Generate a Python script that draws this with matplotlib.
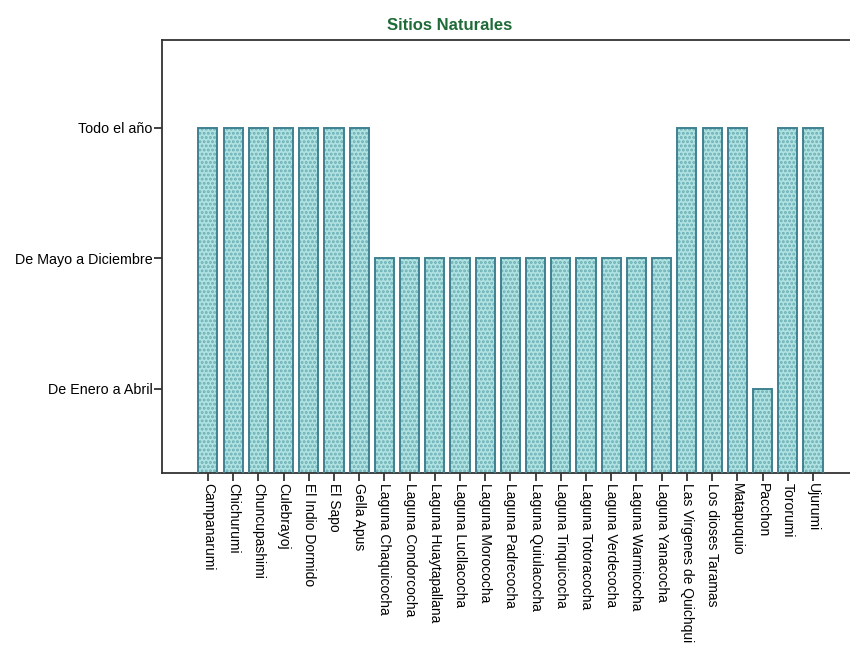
import matplotlib
matplotlib.use("Agg")
import matplotlib.pyplot as plt

# sites and their season (1 = De Enero a Abril, 2 = De Mayo a Diciembre, 3 = Todo el año)
sitios = ["Campanarumi", "Chichurumi", "Chuncupashimi", "Culebrayoj", "El Indio Dormido",
          "El Sapo", "Gella Apus", "Laguna Chaquicocha", "Laguna Condorcocha",
          "Laguna Huaytapallana", "Laguna Lucllacocha", "Laguna Morococha",
          "Laguna Padrecocha", "Laguna Quiulacocha", "Laguna Tinquicocha",
          "Laguna Totoracocha", "Laguna Verdecocha", "Laguna Warmicocha",
          "Laguna Yanacocha", "Las Virgenes de Quichqui", "Los dioses Taramas",
          "Matapuquio", "Pacchon", "Tororumi", "Ujurumi"]
temporada = [3, 3, 3, 3, 3, 3, 3, 2, 2, 2, 2, 2, 2, 2, 2, 2, 2, 2, 2, 3, 3, 3, 1, 3, 3]
niveles = [1, 2, 3]
nombres_niveles = ["De Enero a Abril", "De Mayo a Diciembre", "Todo el año"]

plt.rcParams['font.family'] = ['Liberation Sans', 'DejaVu Sans']
plt.rcParams['hatch.linewidth'] = 1.4

fig = plt.figure(figsize=(8.5, 6.56), dpi=100)
ax = fig.add_axes([162/850, 1 - 473/656, 1 - 162/850, (473 - 40)/656])

x = list(range(len(sitios)))
# dotted fill first, then the outline on top
ax.bar(x, temporada, width=0.76, color="#b0e2e2", edgecolor="#6aaeb4",
       hatch="....", linewidth=0, zorder=2)
ax.bar(x, temporada, width=0.76, color="none", edgecolor="#3f8191",
       linewidth=1.4, zorder=3)

ax.set_xlim(-1.82, 25.47)
ax.set_ylim(0.356, 3.674)
ax.set_xticks(x)
ax.set_xticklabels(sitios, rotation=-90, fontsize=10, va="top", ha="center")
ax.set_yticks(niveles)
ax.set_yticklabels(nombres_niveles, fontsize=10.3)
ax.tick_params(axis="x", direction="out", length=6, width=1.2, color="#222222", pad=1)
ax.tick_params(axis="y", direction="out", length=6, width=1.2, color="#222222", pad=1)

for lado in ["left", "top", "bottom"]:
    ax.spines[lado].set_color("#333333")
    ax.spines[lado].set_linewidth(1.3)
ax.spines["right"].set_visible(False)

fig.text(450/850, 1 - 25/656, "Sitios Naturales", ha="center", va="center",
         fontsize=12, fontweight="bold", color="#1f6a36",
         family=["Liberation Sans Narrow", "Liberation Sans", "DejaVu Sans"])

fig.savefig("out.png", dpi=100)
